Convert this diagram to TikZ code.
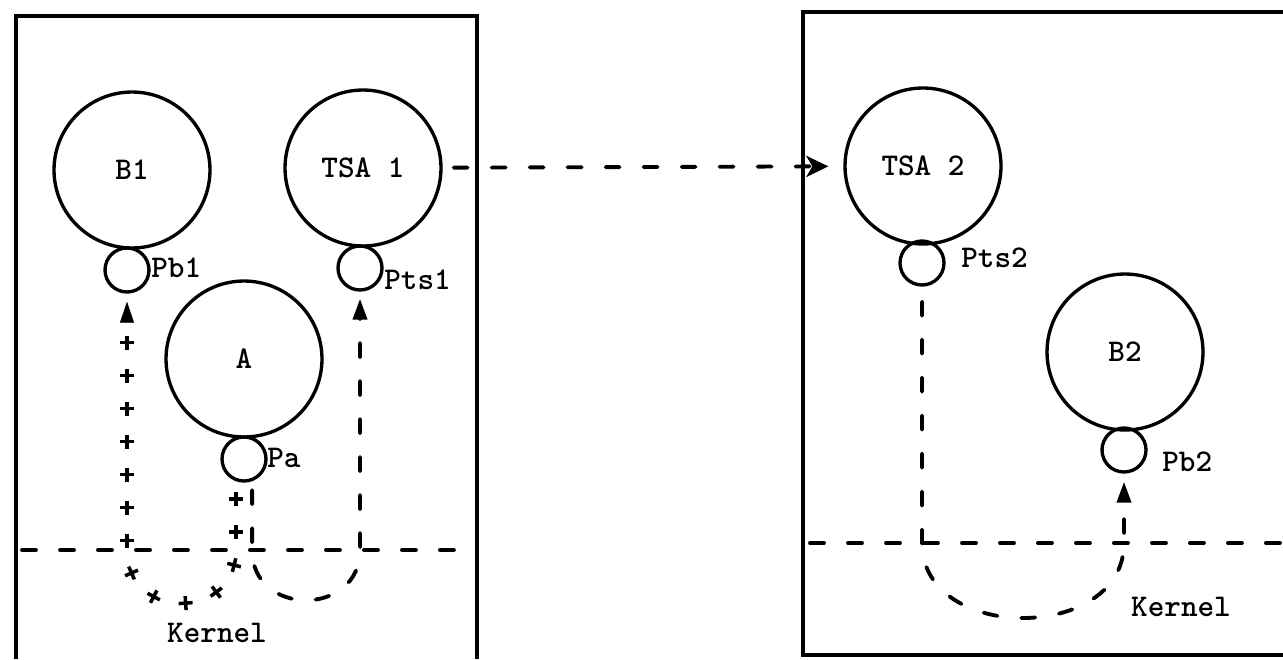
\documentclass[tikz,border=0pt]{standalone}
\usepackage{tikz}
\usetikzlibrary{arrows.meta,decorations.markings}

\tikzset{
    proc/.style={draw, circle, line width=1.9pt, minimum size=3.12cm, inner sep=0pt, font=\ttfamily\bfseries\fontsize{18}{20}\selectfont},
    port/.style={draw, circle, line width=1.9pt, minimum size=0.88cm, inner sep=0pt},
    lbl/.style={font=\ttfamily\bfseries\fontsize{18}{20}\selectfont, inner sep=0pt},
    box/.style={line width=2.8pt},
    dashline/.style={line width=2.2pt, line cap=round, dash pattern=on 0.28cm off 0.48cm},
    tip/.style={-{Triangle[length=0.42cm,width=0.28cm]}},
    plusline/.style={decoration={markings,
        mark=between positions 0.36cm and -0.9cm step 0.66cm with {\draw[line width=2pt] (-0.14cm,0) -- (0.14cm,0) (0,-0.14cm) -- (0,0.14cm);},
        mark=at position -0.16cm with {\arrow{Triangle[length=0.42cm,width=0.28cm]}}}, decorate}
}

\begin{document}
\begin{tikzpicture}[x=0.02cm, y=-0.02cm]
    \useasboundingbox (0,0) rectangle (1283,659);

    % Machines
    \draw[box] (16,659) -- (16,16) -- (477,16) -- (477,659);
    \draw[box] (1283,12) -- (803,12) -- (803,655) -- (1283,655);

    % Kernel boundary
    \coordinate (k1l) at (22,550);
    \coordinate (k1r) at (463,550);
    \coordinate (k2l) at (810,543);
    \coordinate (k2r) at (1283,543);
    \draw[dashline] (k1l) -- (k1r);
    \draw[dashline] (k2l) -- (k2r);

    % Processes
    \node[proc] (b1) at (132,170) {B1};
    \node[proc] (tsa1) at (363,168) {TSA 1};
    \node[proc] (a) at (244,359) {A};
    \node[proc] (tsa2) at (923,166) {TSA 2};
    \node[proc] (b2) at (1125,352) {B2};

    % Ports
    \node[port] (pb1) at (127,270) {};
    \node[port] (pts1) at (360,268) {};
    \node[port] (pa) at (244,459) {};
    \node[port] (pts2) at (922,263) {};
    \node[port] (pb2) at (1124,450) {};

    \node[lbl, anchor=west] (pb1t) at (151,268) {Pb1};
    \node[lbl, anchor=west] (pts1t) at (384,280) {Pts1};
    \node[lbl, anchor=west] (pat) at (267,458) {Pa};
    \node[lbl, anchor=west] (pts2t) at (961,258) {Pts2};
    \node[lbl, anchor=west] (pb2t) at (1162,462) {Pb2};
    \node[lbl] (kern1) at (217,633) {Kernel};
    \node[lbl] (kern2) at (1181,607) {Kernel};

    % Messages
    \path[plusline] (pa.-110) -- (pa.-110 |- k1l) .. controls +(0,71) and +(0,71) .. (pb1 |- k1l) -- (pb1);
    \draw[dashline, tip, shorten <=0.18cm, shorten >=0.14cm] (pa.-70) -- (pa.-70 |- k1l) .. controls +(0,67) and +(0,67) .. (pts1 |- k1l) -- (pts1);
    \draw[dashline, -{Stealth[length=0.44cm,width=0.42cm,inset=0.12cm]}, shorten <=0.22cm, shorten >=0.3cm] (tsa1) -- (tsa2);
    \draw[dashline, tip, shorten <=0.3cm, shorten >=0.16cm] (pts2) -- (pts2 |- k2l) .. controls +(0,100) and +(0,100) .. (pb2 |- k2l) -- (pb2);
\end{tikzpicture}
\end{document}
